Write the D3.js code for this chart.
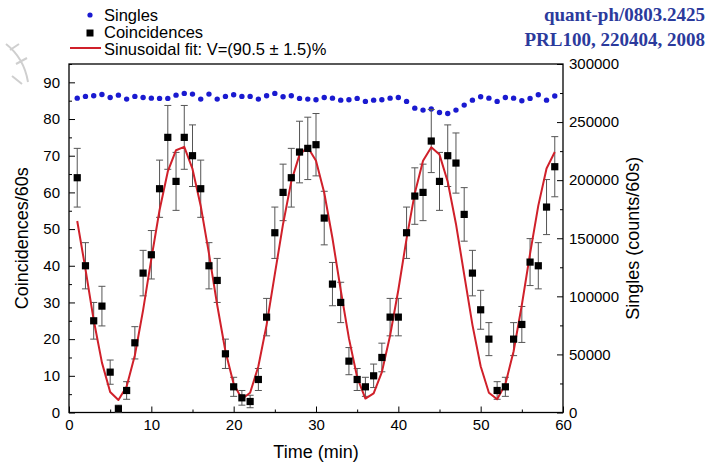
<!DOCTYPE html>
<html><head><meta charset="utf-8">
<script src="https://cdn.jsdelivr.net/npm/d3@7"></script>
<style>body{margin:0;background:#fff} svg{display:block}</style>
</head><body><svg id="c" width="708" height="465"></svg>
<script>
// ---- data ----
const timeMin = [1,2,3,4,5,6,7,8,9,10,11,12,13,14,15,16,17,18,19,20,21,22,23,24,25,26,27,28,29,30,
  31,32,33,34,35,36,37,38,39,40,41,42,43,44,45,46,47,48,49,50,51,52,53,54,55,56,57,58,59];
const coincidences = [64,40,25,29,11,1,6,19,38,43,61,75,63,75,70,61,40,36,16,7,4,3,9,26,49,60,64,71,72,73,
  53,35,30,14,9,7,10,15,26,26,49,59,60,74,63,70,68,54,38,28,20,6,7,20,24,41,40,56,67];
const coincErr = [8,6.3,5,5.4,3.3,1,2.4,4.4,6.2,6.6,7.8,8.7,7.9,8.7,8.4,7.8,6.3,6,4,2.6,2,1.7,3,5.1,7,7.7,8,8.4,8.5,8.5,
  7.3,5.9,5.5,3.7,3,2.6,3.2,3.9,5.1,5.1,7,7.7,7.7,8.6,7.9,8.4,8.2,7.3,6.2,5.3,4.5,2.4,2.6,4.5,4.9,6.4,6.3,7.5,8.2];
const singles = [270600,272100,272700,273800,271200,273200,269800,272100,271200,270600,270400,270400,273200,274700,274100,
  269800,274100,269800,272100,273500,272100,272100,269800,272700,274700,271800,272700,270400,269800,269200,
  271200,270600,268900,269200,270400,267800,268900,269200,270600,271200,267800,262000,260300,261200,258300,
  257400,260300,264600,268900,271800,270600,267800,271200,270600,268300,270400,273500,268900,272400];
const fitValues = [52.2,39.1,25.2,13.6,5.6,3.4,7.1,15.6,27.9,41.9,55.2,65.7,71.5,72.4,66.4,56.3,43.3,29.3,16.7,7.8,
  3.7,5.4,12.6,23.9,37.7,51.4,63.0,70.3,72.3,68.6,59.9,47.5,33.4,20.2,9.6,3.8,5.2,11.0,21.0,33.4,
  47.4,59.8,68.6,72.3,70.3,62.9,51.4,37.6,23.9,12.6,5.4,3.6,7.7,16.7,29.3,43.3,56.4,66.5,71.0];
const xTicks = [0,10,20,30,40,50,60];
const yLeftTicks = [0,10,20,30,40,50,60,70,80,90];
const yRightTicks = [0,50000,100000,150000,200000,250000,300000];
const legendLabels = ["Singles","Coincidences","Sinusoidal fit: V=(90.5 \u00b1 1.5)%"];
const refLines = ["quant-ph/0803.2425","PRL100, 220404, 2008"];

// ---- layout ----
const L = 69, R = 563, T = 64, B = 412.5;
const svg = d3.select("#c");
const font = "'Liberation Sans', Arial, sans-serif";
const x = d3.scaleLinear().domain([0,60]).range([L,R]);
const yL = d3.scaleLinear().domain([0,95]).range([B,T]);
const yR = d3.scaleLinear().domain([0,300000]).range([B,T]);

// faint watermark fragment at left edge
svg.append("path").attr("d","M6,44 Q24,58 28,82 M10,50 L19,44 M16,64 L27,58 M12,76 L22,84")
  .attr("fill","none").attr("stroke","#cfcfcf").attr("stroke-width",2);

// axes
function styleAxis(g){
  g.select(".domain").remove();
  g.selectAll("line").attr("stroke","#000").attr("stroke-width",1);
  g.selectAll("text").attr("font-family",font).attr("font-size",15).attr("fill","#000");
}
const minorX = [5,15,25,35,45,55];
svg.append("g").attr("transform",`translate(0,${B})`)
  .call(d3.axisBottom(x).tickValues(xTicks).tickFormat(d3.format("d")).tickSizeInner(-6).tickSizeOuter(0).tickPadding(7))
  .call(styleAxis);
svg.append("g").attr("transform",`translate(0,${B})`)
  .call(d3.axisBottom(x).tickValues(minorX).tickFormat("").tickSizeInner(-3).tickSizeOuter(0))
  .call(styleAxis);
svg.append("g").attr("transform",`translate(${L},0)`)
  .call(d3.axisLeft(yL).tickValues(yLeftTicks).tickFormat(d3.format("d")).tickSizeInner(-6).tickSizeOuter(0).tickPadding(9))
  .call(styleAxis);
svg.append("g").attr("transform",`translate(${L},0)`)
  .call(d3.axisLeft(yL).tickValues([5,15,25,35,45,55,65,75,85,95]).tickFormat("").tickSizeInner(-3).tickSizeOuter(0))
  .call(styleAxis);
svg.append("g").attr("transform",`translate(${R},0)`)
  .call(d3.axisRight(yR).tickValues(yRightTicks).tickFormat(d3.format("d")).tickSizeInner(-6).tickSizeOuter(0).tickPadding(6))
  .call(styleAxis);
svg.append("g").attr("transform",`translate(${R},0)`)
  .call(d3.axisRight(yR).tickValues([25000,75000,125000,175000,225000,275000]).tickFormat("").tickSizeInner(-3).tickSizeOuter(0))
  .call(styleAxis);

svg.append("rect").attr("x",L).attr("y",T).attr("width",R-L).attr("height",B-T)
  .attr("fill","none").attr("stroke","#000").attr("stroke-width",1.3);

// axis titles
svg.append("text").attr("x",(L+R)/2).attr("y",458).attr("text-anchor","middle")
  .attr("font-family",font).attr("font-size",18).text("Time (min)");
svg.append("text").attr("transform",`translate(28,${(T+B)/2}) rotate(-90)`).attr("text-anchor","middle")
  .attr("font-family",font).attr("font-size",18).text("Coincidences/60s");
svg.append("text").attr("transform",`translate(639,${(T+B)/2}) rotate(-90)`).attr("text-anchor","middle")
  .attr("font-family",font).attr("font-size",18).text("Singles (counts/60s)");

// singles
svg.append("g").selectAll("circle").data(timeMin).join("circle")
  .attr("cx",(d)=>x(d)).attr("cy",(d,i)=>yR(singles[i])).attr("r",2.7).attr("fill","#1a1ad0");

// error bars
const eb = svg.append("g").attr("stroke","#555").attr("stroke-width",1);
timeMin.forEach((t,i)=>{
  const v = coincidences[i], e = coincErr[i];
  const y1 = yL(v+e), y2 = yL(v-e), cx = x(t);
  eb.append("line").attr("x1",cx).attr("x2",cx).attr("y1",y1).attr("y2",y2);
  eb.append("line").attr("x1",cx-3.5).attr("x2",cx+3.5).attr("y1",y1).attr("y2",y1);
  eb.append("line").attr("x1",cx-3.5).attr("x2",cx+3.5).attr("y1",y2).attr("y2",y2);
});

// fit line
svg.append("path").datum(timeMin)
  .attr("d", d3.line().x(d=>x(d)).y((d,i)=>yL(fitValues[i])))
  .attr("fill","none").attr("stroke","#d0202a").attr("stroke-width",2).attr("stroke-linejoin","round");

// coincidence squares
svg.append("g").selectAll("rect").data(timeMin).join("rect")
  .attr("x",d=>x(d)-3.6).attr("y",(d,i)=>yL(coincidences[i])-3.6)
  .attr("width",7.2).attr("height",7.2).attr("fill","#000");

// legend
const lg = svg.append("g");
lg.append("circle").attr("cx",90).attr("cy",15).attr("r",2.6).attr("fill","#1a1ad0");
lg.append("rect").attr("x",86.5).attr("y",29.5).attr("width",7).attr("height",7).attr("fill","#000");
lg.append("line").attr("x1",70).attr("x2",101).attr("y1",48).attr("y2",48).attr("stroke","#d0202a").attr("stroke-width",2);
legendLabels.forEach((s,i)=>{
  lg.append("text").attr("x",104).attr("y",21+i*17).attr("font-family",font).attr("font-size",16.5).text(s);
});

// reference text
refLines.forEach((s,i)=>{
  svg.append("text").attr("x",705).attr("y",21+i*25).attr("text-anchor","end")
    .attr("font-family","'Liberation Serif','Times New Roman',serif").attr("font-weight","bold")
    .attr("font-size",19).attr("fill","#2b3a9c").text(s);
});
</script></body></html>
